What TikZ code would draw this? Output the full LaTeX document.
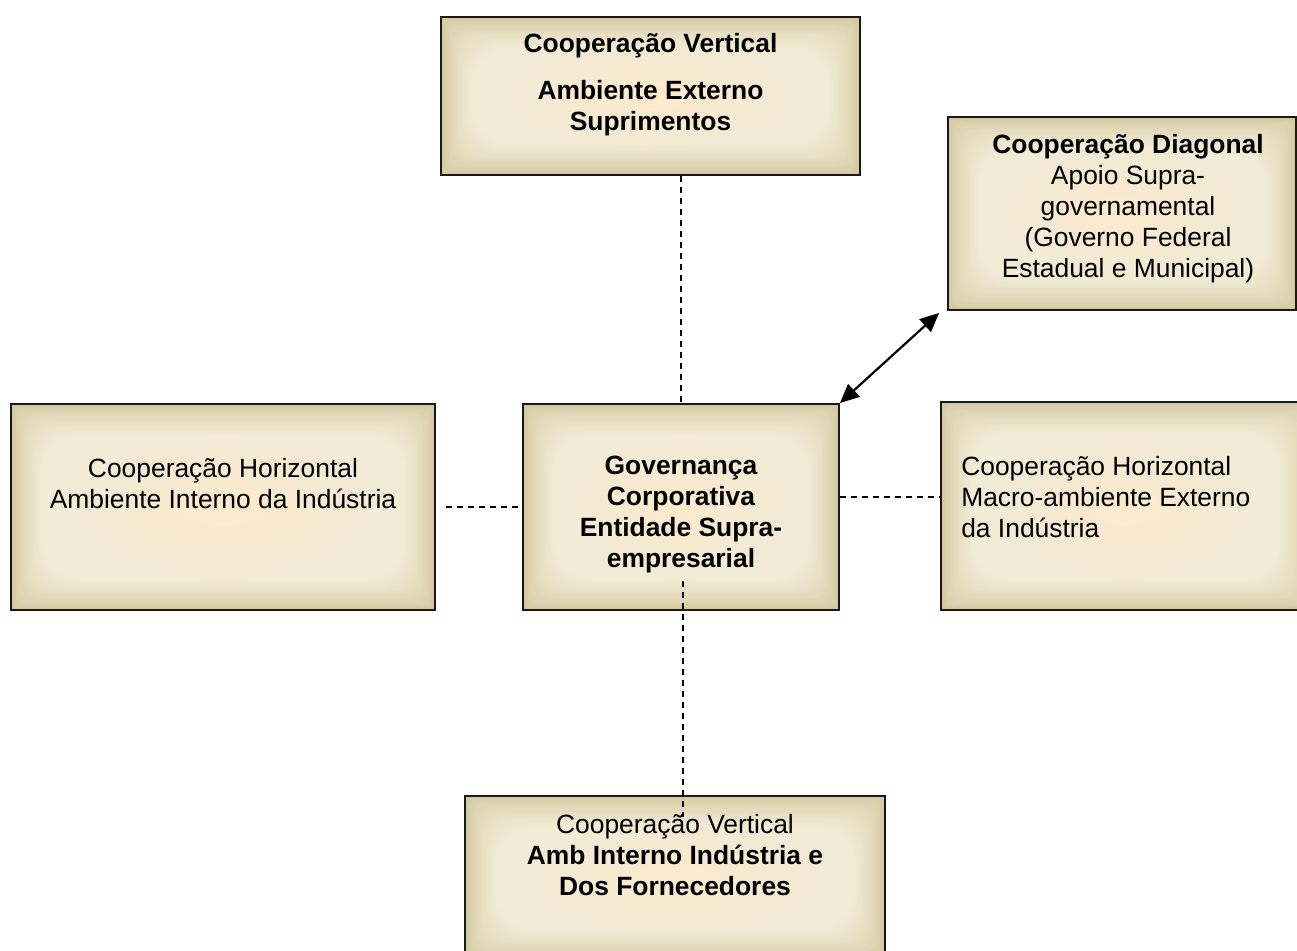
\documentclass[tikz,border=0pt]{standalone}
\usepackage{fontspec}
\setmainfont{Liberation Sans}
\usetikzlibrary{calc,arrows.meta,fadings}

\definecolor{bevelouter}{RGB}{211,198,158}
\definecolor{bevelinner}{RGB}{242,235,214}
\definecolor{bevelglow}{RGB}{253,234,204}

\tikzfading[name=softglow, inner color=transparent!0, outer color=transparent!100]

\tikzset{
  bevelbox/.style={draw=black!90, line width=1.8pt, inner sep=0pt, fill=bevelouter,
    path picture={
      \foreach \i [evaluate=\i as \m using {100*(\i/18)^0.7},
                   evaluate=\i as \d using {\i*1.7}] in {1,...,18}{
        \fill[bevelinner!\m!bevelouter, rounded corners={\d*1.3pt}]
          ($(path picture bounding box.south west)+(\d pt,\d pt)$) rectangle
          ($(path picture bounding box.north east)-(\d pt,\d pt)$);
      }
      \path let \p1=($(path picture bounding box.north east)-(path picture bounding box.south west)$) in
        [fill=bevelglow, path fading=softglow]
        (path picture bounding box.center) ellipse ({0.34*\x1} and {0.34*\y1});
    }},
  plaintext/.style={font=\fontsize{26.4}{31}\selectfont, align=center, inner sep=0pt},
  boldtext/.style={font=\fontsize{26.4}{31}\selectfont\bfseries, align=center, inner sep=0pt},
  link/.style={dash pattern=on 6pt off 5pt, line width=1.9pt},
  twoway/.style={line width=2.2pt, {Triangle[length=19pt,width=17pt]}-{Triangle[length=19pt,width=17pt]}},
}

\begin{document}
\begin{tikzpicture}[x=1pt,y=-1pt]
  \useasboundingbox (0,0) rectangle (1297,950);
  \fill[white] (0,0) rectangle (1297,950);
  \clip (0,0) rectangle (1297,950);

  % boxes
  \node[bevelbox, minimum width=419, minimum height=158] (top) at (650.5,96) {};
  \node[bevelbox, minimum width=348, minimum height=193] (diag) at (1122,213.5) {};
  \node[bevelbox, minimum width=316, minimum height=206] (center) at (681,507) {};
  \node[bevelbox, minimum width=424, minimum height=206] (left) at (223,507) {};
  \node[bevelbox, minimum width=369, minimum height=208] (right) at (1125.5,506) {};
  \node[bevelbox, minimum width=420, minimum height=164] (bottom) at (675,878) {};

  % box texts
  \node[boldtext] (toptext) at ($(top.center)+(0,-11)$)
    {Cooperação Vertical\\[16pt]Ambiente Externo\\Suprimentos};
  \node[plaintext] (diagtext) at ($(diag.center)+(6,-5)$)
    {\textbf{Cooperação Diagonal}\\Apoio Supra-\\governamental\\(Governo Federal\\Estadual e Municipal)};
  \node[boldtext] (centertext) at ($(center.center)+(0,8)$)
    {Governança\\Corporativa\\Entidade Supra-\\empresarial};
  \node[plaintext] (lefttext) at ($(left.center)+(0,-23)$)
    {Cooperação Horizontal\\Ambiente Interno da Indústria};
  \node[plaintext, align=left, anchor=west] (righttext) at ($(right.west)+(21,-8.5)$)
    {Cooperação Horizontal\\Macro-ambiente Externo\\da Indústria};
  \node[plaintext] (bottomtext) at ($(bottom.north)+(0,60)$)
    {Cooperação Vertical\\\textbf{Amb Interno Indústria e}\\\textbf{Dos Fornecedores}};

  % connectors
  \draw[link] (center.north |- top.south) -- (center.north);
  \draw[link, shorten <=10pt] (left.east) -- (center.west);
  \coordinate (rline) at ($(center.east)+(0,-10)$);
  \draw[link] (rline) -- (rline -| right.west);
  \coordinate (vtop) at ($(center.south)+(2,-30)$);
  \coordinate (vbot) at ($(vtop |- bottom.north)+(0,22)$);
  \draw[link] (vtop) -- (vbot);
  \coordinate (diagend) at ($(diag.south west)+(-8,2)$);
  \draw[twoway] (center.north east) -- (diagend);
\end{tikzpicture}
\end{document}
